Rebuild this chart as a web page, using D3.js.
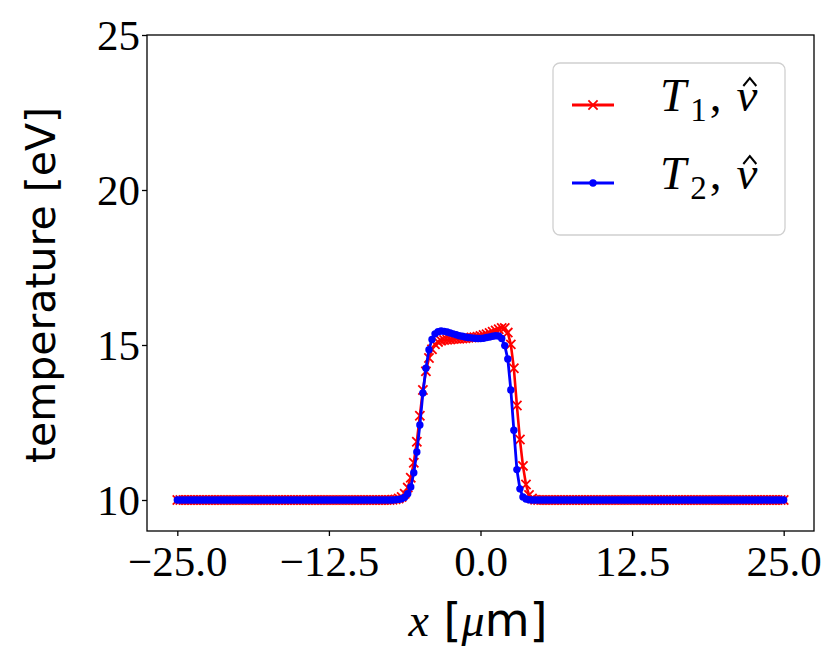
<!DOCTYPE html>
<html>
<head>
<meta charset="utf-8">
<script src="https://cdn.jsdelivr.net/npm/d3@7"></script>
<style>
  html, body { margin: 0; padding: 0; background: #fff; }
  svg { display: block; }
</style>
</head>
<body>
<svg id="chart" width="831" height="659"></svg>
<script>
// ---- data ----
const xValues = [
  -25, -24.75, -24.5, -24.25, -24, -23.75, -23.5, -23.25, -23, -22.75,
  -22.5, -22.25, -22, -21.75, -21.5, -21.25, -21, -20.75, -20.5, -20.25,
  -20, -19.75, -19.5, -19.25, -19, -18.75, -18.5, -18.25, -18, -17.75,
  -17.5, -17.25, -17, -16.75, -16.5, -16.25, -16, -15.75, -15.5, -15.25,
  -15, -14.75, -14.5, -14.25, -14, -13.75, -13.5, -13.25, -13, -12.75,
  -12.5, -12.25, -12, -11.75, -11.5, -11.25, -11, -10.75, -10.5, -10.25,
  -10, -9.75, -9.5, -9.25, -9, -8.75, -8.5, -8.25, -8, -7.75,
  -7.5, -7.25, -7, -6.75, -6.5, -6.25, -6, -5.75, -5.5, -5.25,
  -5, -4.75, -4.5, -4.25, -4, -3.75, -3.5, -3.25, -3, -2.75,
  -2.5, -2.25, -2, -1.75, -1.5, -1.25, -1, -0.75, -0.5, -0.25,
  0, 0.25, 0.5, 0.75, 1, 1.25, 1.5, 1.75, 2, 2.25,
  2.5, 2.75, 3, 3.25, 3.5, 3.75, 4, 4.25, 4.5, 4.75,
  5, 5.25, 5.5, 5.75, 6, 6.25, 6.5, 6.75, 7, 7.25,
  7.5, 7.75, 8, 8.25, 8.5, 8.75, 9, 9.25, 9.5, 9.75,
  10, 10.25, 10.5, 10.75, 11, 11.25, 11.5, 11.75, 12, 12.25,
  12.5, 12.75, 13, 13.25, 13.5, 13.75, 14, 14.25, 14.5, 14.75,
  15, 15.25, 15.5, 15.75, 16, 16.25, 16.5, 16.75, 17, 17.25,
  17.5, 17.75, 18, 18.25, 18.5, 18.75, 19, 19.25, 19.5, 19.75,
  20, 20.25, 20.5, 20.75, 21, 21.25, 21.5, 21.75, 22, 22.25,
  22.5, 22.75, 23, 23.25, 23.5, 23.75, 24, 24.25, 24.5, 24.75,
  25
];
const T1 = [
  10, 10, 10, 10, 10, 10, 10, 10, 10, 10,
  10, 10, 10, 10, 10, 10, 10, 10, 10, 10,
  10, 10, 10, 10, 10, 10, 10, 10, 10, 10,
  10, 10, 10, 10, 10, 10, 10, 10, 10, 10,
  10, 10, 10, 10, 10, 10, 10, 10, 10, 10,
  10, 10, 10, 10, 10, 10, 10, 10, 10, 10,
  10, 10, 10, 10, 10, 10, 10, 10, 10, 10,
  10.0, 10.01, 10.02, 10.05, 10.1, 10.2, 10.4, 10.72, 11.2, 11.88,
  12.72, 13.55, 14.15, 14.58, 14.86, 15.02, 15.1, 15.14, 15.16, 15.17,
  15.18, 15.19, 15.2, 15.2, 15.21, 15.22, 15.23, 15.24, 15.25, 15.27,
  15.29, 15.32, 15.35, 15.39, 15.43, 15.47, 15.51, 15.55, 15.55, 15.4,
  15.02, 14.25, 13.05, 11.95, 11.1, 10.5, 10.16, 10.05, 10.01, 10.0,
  10, 10, 10, 10, 10, 10, 10, 10, 10, 10,
  10, 10, 10, 10, 10, 10, 10, 10, 10, 10,
  10, 10, 10, 10, 10, 10, 10, 10, 10, 10,
  10, 10, 10, 10, 10, 10, 10, 10, 10, 10,
  10, 10, 10, 10, 10, 10, 10, 10, 10, 10,
  10, 10, 10, 10, 10, 10, 10, 10, 10, 10,
  10, 10, 10, 10, 10, 10, 10, 10, 10, 10,
  10, 10, 10, 10, 10, 10, 10, 10, 10, 10,
  10
];
const T2 = [
  10, 10, 10, 10, 10, 10, 10, 10, 10, 10,
  10, 10, 10, 10, 10, 10, 10, 10, 10, 10,
  10, 10, 10, 10, 10, 10, 10, 10, 10, 10,
  10, 10, 10, 10, 10, 10, 10, 10, 10, 10,
  10, 10, 10, 10, 10, 10, 10, 10, 10, 10,
  10, 10, 10, 10, 10, 10, 10, 10, 10, 10,
  10, 10, 10, 10, 10, 10, 10, 10, 10, 10,
  10.0, 10.0, 10.01, 10.02, 10.04, 10.09, 10.2, 10.42, 10.88, 11.55,
  12.42, 13.45, 14.25, 14.85, 15.18, 15.36, 15.43, 15.45, 15.44, 15.42,
  15.39, 15.36, 15.33, 15.3, 15.28, 15.26, 15.24, 15.23, 15.22, 15.21,
  15.21, 15.22, 15.24, 15.26, 15.28, 15.3, 15.29, 15.21, 14.98, 14.55,
  13.55, 12.25, 10.98, 10.36, 10.1, 10.03, 10.01, 10.0, 10.0, 10.0,
  10, 10, 10, 10, 10, 10, 10, 10, 10, 10,
  10, 10, 10, 10, 10, 10, 10, 10, 10, 10,
  10, 10, 10, 10, 10, 10, 10, 10, 10, 10,
  10, 10, 10, 10, 10, 10, 10, 10, 10, 10,
  10, 10, 10, 10, 10, 10, 10, 10, 10, 10,
  10, 10, 10, 10, 10, 10, 10, 10, 10, 10,
  10, 10, 10, 10, 10, 10, 10, 10, 10, 10,
  10, 10, 10, 10, 10, 10, 10, 10, 10, 10,
  10
];
const xTicks = [-25, -12.5, 0, 12.5, 25];
const yTicks = [10, 15, 20, 25];
const xDomain = [-27.5, 27.5];
const yDomain = [9, 25];
const seriesLabels = [["T", "1"], ["T", "2"]];

// ---- drawing ----
(function () {
const svg = d3.select("#chart");
const pl = 147, pr = 814, pt = 35, pb = 531;
const x = d3.scaleLinear().domain(xDomain).range([pl, pr]);
const y = d3.scaleLinear().domain(yDomain).range([pb, pt]);
const serif = "'Liberation Serif', 'Times New Roman', serif";
const sans = "'DejaVu Sans', 'Noto Sans', sans-serif";

svg.append("rect").attr("width", 831).attr("height", 659).attr("fill", "#fff");

svg.append("defs").append("clipPath").attr("id", "clip")
  .append("rect").attr("x", pl).attr("y", pt).attr("width", pr - pl).attr("height", pb - pt);

const red = "#ff0000", blue = "#0000ff";
const line = d3.line().x(d => x(d[0])).y(d => y(d[1]));
const d1 = xValues.map((v, i) => [v, T1[i]]);
const d2 = xValues.map((v, i) => [v, T2[i]]);

const plot = svg.append("g").attr("clip-path", "url(#clip)");

// T1 red line + x markers
plot.append("path").datum(d1).attr("d", line)
  .attr("fill", "none").attr("stroke", red).attr("stroke-width", 2.6).attr("stroke-linejoin", "round");
const ms = 4.6;
const xMark = (cx, cy) => `M${cx - ms},${cy - ms}L${cx + ms},${cy + ms}M${cx - ms},${cy + ms}L${cx + ms},${cy - ms}`;
plot.append("g").selectAll("path").data(d1).join("path")
  .attr("d", d => xMark(x(d[0]), y(d[1])))
  .attr("stroke", red).attr("stroke-width", 1.8).attr("fill", "none");

// T2 blue line + dot markers
plot.append("path").datum(d2).attr("d", line)
  .attr("fill", "none").attr("stroke", blue).attr("stroke-width", 2.8).attr("stroke-linejoin", "round");
plot.append("g").selectAll("circle").data(d2).join("circle")
  .attr("cx", d => x(d[0])).attr("cy", d => y(d[1])).attr("r", 3.7).attr("fill", blue);

// axes
const xAxis = d3.axisBottom(x).tickValues(xTicks).tickFormat(d3.format(".1f")).tickSize(5).tickPadding(6);
const yAxis = d3.axisLeft(y).tickValues(yTicks).tickFormat(d3.format("d")).tickSize(5).tickPadding(5);

const gx = svg.append("g").attr("transform", `translate(0,${pb})`).call(xAxis);
const gy = svg.append("g").attr("transform", `translate(${pl},0)`).call(yAxis);
[gx, gy].forEach(g => {
  g.select(".domain").remove();
  g.selectAll(".tick line").attr("stroke", "#000").attr("stroke-width", 1.3);
  g.selectAll(".tick text").attr("fill", "#000").attr("font-family", serif).attr("font-size", 43);
});
gx.selectAll(".tick text").attr("dy", null).attr("y", 45);
gy.selectAll(".tick text").attr("dy", "0.34em").attr("x", -7);

// frame
svg.append("rect").attr("x", pl).attr("y", pt).attr("width", pr - pl).attr("height", pb - pt)
  .attr("fill", "none").attr("stroke", "#000").attr("stroke-width", 1.3);

// axis labels
const xl = svg.append("text").attr("x", 478).attr("y", 636).attr("text-anchor", "middle")
  .attr("font-size", 46).attr("fill", "#000");
xl.append("tspan").attr("font-family", serif).attr("font-style", "italic").text("x");
xl.append("tspan").attr("font-family", sans).text(" [");
xl.append("tspan").attr("font-family", serif).attr("font-style", "italic").text("μ");
xl.append("tspan").attr("font-family", sans).text("m]");

svg.append("text").attr("transform", "translate(55,285) rotate(-90)").attr("text-anchor", "middle")
  .attr("font-family", sans).attr("font-size", 41).attr("fill", "#000").text("temperature [eV]");

// legend
const lg = svg.append("g");
lg.append("rect").attr("x", 553).attr("y", 63).attr("width", 232).attr("height", 172).attr("rx", 7)
  .attr("fill", "#fff").attr("fill-opacity", 0.8).attr("stroke", "#d0d0d0").attr("stroke-width", 1.3);
const entries = [
  { color: red, lab: seriesLabels[0], yc: 105, marker: "x" },
  { color: blue, lab: seriesLabels[1], yc: 183, marker: "o" }
];
entries.forEach(e => {
  lg.append("line").attr("x1", 572).attr("x2", 614).attr("y1", e.yc).attr("y2", e.yc)
    .attr("stroke", e.color).attr("stroke-width", 2.8);
  if (e.marker === "x") {
    lg.append("path").attr("d", xMark(593, e.yc)).attr("stroke", e.color).attr("stroke-width", 1.8);
  } else {
    lg.append("circle").attr("cx", 593).attr("cy", e.yc).attr("r", 3.7).attr("fill", e.color);
  }
  const base = e.yc + 6;
  const t = lg.append("text").attr("x", 660).attr("y", base).attr("font-family", serif)
    .attr("font-size", 47).attr("fill", "#000");
  t.append("tspan").attr("font-style", "italic").text(e.lab[0]);
  t.append("tspan").attr("font-size", 33).attr("dy", 10).attr("dx", 4).text(e.lab[1]);
  t.append("tspan").attr("dy", -10).attr("dx", 3).text(",");
  t.append("tspan").attr("font-style", "italic").attr("dx", 15).text("ν");
  const node = t.node();
  const ext = node.getExtentOfChar(node.getNumberOfChars() - 1);
  const hc = ext.x + ext.width / 2 + 3;
  // circumflex accent over nu
  lg.append("path")
    .attr("d", `M${hc - 6.5},${base - 25}L${hc},${base - 33}L${hc + 6.5},${base - 25}`)
    .attr("fill", "none").attr("stroke", "#000").attr("stroke-width", 2).attr("stroke-linejoin", "miter");
});
})();
</script>
</body>
</html>
